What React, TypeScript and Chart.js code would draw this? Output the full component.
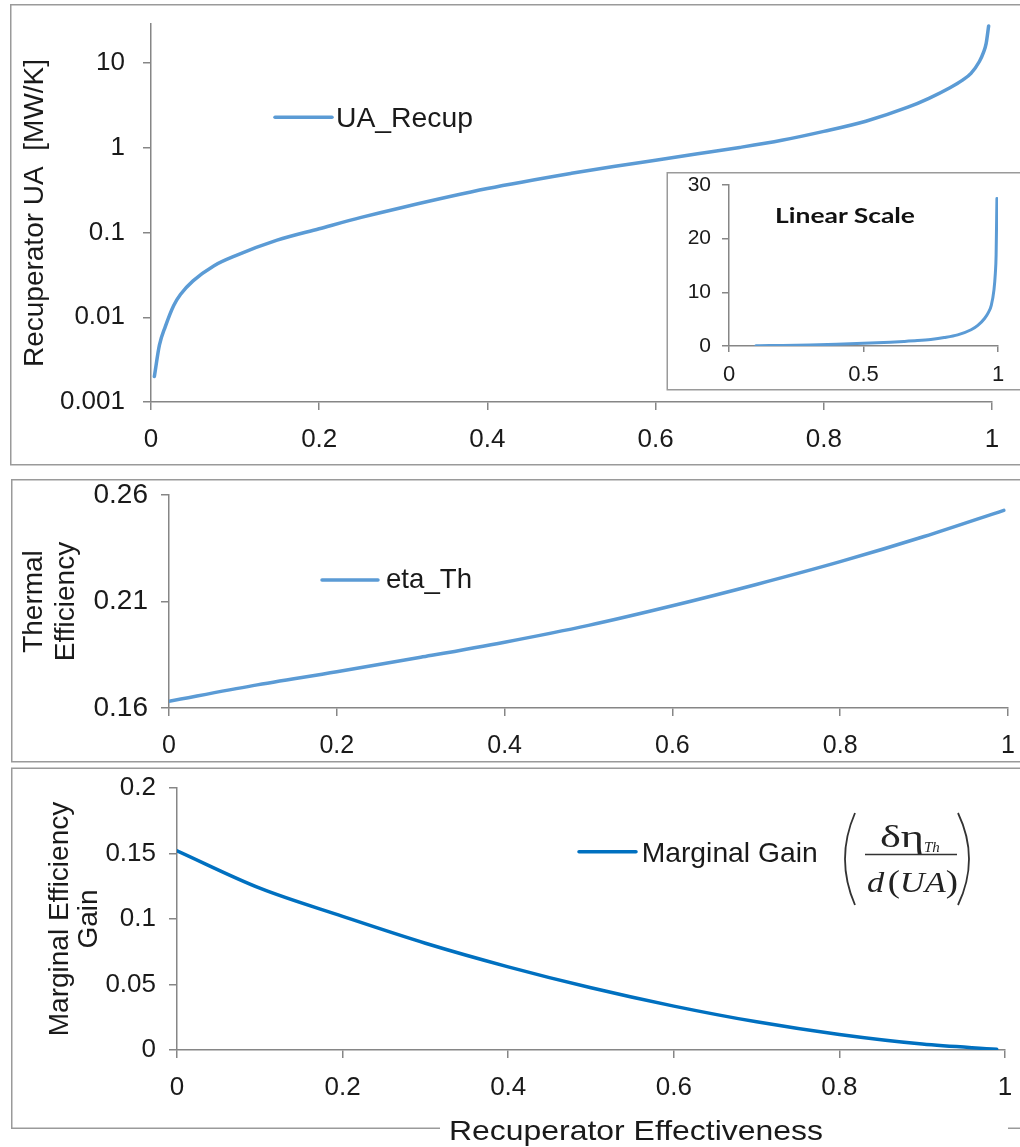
import React, { useEffect, useRef } from 'react';
import { Chart, registerables } from 'chart.js';

Chart.register(...registerables);

const SANS = "'Liberation Sans', Arial, Helvetica, sans-serif";
const SERIF = "'Liberation Serif', 'Times New Roman', serif";
const AXIS_COLOR = '#868686';
const FRAME_COLOR = '#9a9a9a';
const TEXT_COLOR = '#1a1a1a';
const LIGHT_BLUE = '#5B9BD5';
const DARK_BLUE = '#0070C0';

// ---------------- data ----------------
// Top panel: recuperator UA vs effectiveness (log scale)
const effectivenessUA = [
  0.004, 0.01, 0.017, 0.027, 0.035, 0.05, 0.075, 0.1, 0.15, 0.2, 0.25, 0.3, 0.4, 0.5, 0.55,
  0.6, 0.65, 0.7, 0.75, 0.8, 0.85, 0.9, 0.925, 0.95, 0.965, 0.975, 0.985, 0.99, 0.993, 0.996,
];
const uaRecup = [
  0.002, 0.00468, 0.00776, 0.0138, 0.0186, 0.0269, 0.0407, 0.0531, 0.0813, 0.111, 0.151, 0.1995, 0.331, 0.501, 0.603,
  0.716, 0.851, 1.012, 1.23, 1.567, 2.065, 3.02, 3.846, 5.129, 6.31, 7.586, 10.47, 13.49, 16.98, 27.5,
];
const uaTickValues = [0.001, 0.01, 0.1, 1, 10];
const uaTickLabels = ['0.001', '0.01', '0.1', '1', '10'];
const effTickValues = [0, 0.2, 0.4, 0.6, 0.8, 1];
const effTickLabels = ['0', '0.2', '0.4', '0.6', '0.8', '1'];

// Inset (linear scale)
const insetStartEffectiveness = 0.1;
const insetYTickValues = [0, 10, 20, 30];
const insetYTickLabels = ['0', '10', '20', '30'];
const insetXTickValues = [0, 0.5, 1];
const insetXTickLabels = ['0', '0.5', '1'];

// Middle panel: thermal efficiency
const effectivenessEta = [0, 0.1, 0.2, 0.3, 0.4, 0.5, 0.6, 0.7, 0.8, 0.9, 0.995];
const etaTh = [0.1631, 0.1705, 0.177, 0.1838, 0.1909, 0.1988, 0.208, 0.218, 0.2287, 0.2405, 0.2528];
const etaTickValues = [0.16, 0.21, 0.26];
const etaTickLabels = ['0.16', '0.21', '0.26'];

// Bottom panel: marginal efficiency gain
const effectivenessGain = [0, 0.1, 0.2, 0.3, 0.4, 0.5, 0.6, 0.7, 0.8, 0.9, 0.99];
const marginalGain = [0.152, 0.1235, 0.102, 0.0815, 0.0635, 0.0475, 0.0335, 0.0215, 0.0118, 0.0045, 0.0005];
const gainTickValues = [0, 0.05, 0.1, 0.15, 0.2];
const gainTickLabels = ['0', '0.05', '0.1', '0.15', '0.2'];

// ---------------- helpers ----------------
type AxisSpec = {
  type?: string;
  min: number;
  max: number;
  values: number[];
  labels: string[];
  fontSize: number;
  padding: number;
  tickLength: number;
  size: number;
  title?: { text: string | string[]; size: number; lineHeight: number; padTop: number };
};

function makeAxis(o: AxisSpec, horizontal: boolean) {
  return {
    type: o.type ?? 'linear',
    position: horizontal ? 'bottom' : 'left',
    min: o.min,
    max: o.max,
    afterBuildTicks: (s: any) => {
      s.ticks = o.values.map((v) => ({ value: v }));
    },
    afterFit: (s: any) => {
      if (horizontal) s.height = o.size;
      else s.width = o.size;
      s.paddingTop = 0;
      s.paddingBottom = 0;
      s.paddingLeft = 0;
      s.paddingRight = 0;
    },
    ticks: {
      autoSkip: false,
      maxRotation: 0,
      minRotation: 0,
      padding: o.padding,
      color: TEXT_COLOR,
      font: { family: SANS, size: o.fontSize },
      callback: (_v: any, i: number) => o.labels[i] ?? '',
    },
    grid: {
      display: true,
      drawOnChartArea: false,
      drawTicks: true,
      tickLength: o.tickLength,
      color: AXIS_COLOR,
      lineWidth: 1.5,
    },
    border: { display: true, color: AXIS_COLOR, width: 1.5 },
    title: o.title
      ? {
          display: true,
          text: o.title.text,
          color: TEXT_COLOR,
          font: { family: SANS, size: o.title.size, lineHeight: o.title.lineHeight },
          padding: { top: o.title.padTop, bottom: 0 },
        }
      : { display: false },
  };
}

function lineConfig(
  xs: number[],
  ys: number[],
  color: string,
  width: number,
  xAxis: any,
  yAxis: any,
  padding: { top: number; right: number }
): any {
  return {
    type: 'line',
    data: {
      datasets: [
        {
          data: xs.map((x, i) => ({ x, y: ys[i] })),
          borderColor: color,
          backgroundColor: color,
          borderWidth: width,
          pointRadius: 0,
          borderCapStyle: 'round',
          borderJoinStyle: 'round',
          cubicInterpolationMode: 'monotone',
          fill: false,
        },
      ],
    },
    options: {
      responsive: false,
      animation: false,
      events: [],
      layout: { padding: { left: 0, top: padding.top, right: padding.right, bottom: 0 } },
      plugins: { legend: { display: false }, tooltip: { enabled: false } },
      scales: { x: xAxis, y: yAxis },
    },
  };
}

function ChartBox(props: { left: number; top: number; width: number; height: number; build: () => any; bg?: string }) {
  const ref = useRef<HTMLCanvasElement | null>(null);
  useEffect(() => {
    const chart = new Chart(ref.current as HTMLCanvasElement, props.build());
    return () => chart.destroy();
  }, []);
  return (
    <canvas
      ref={ref}
      width={props.width}
      height={props.height}
      style={{
        position: 'absolute',
        left: props.left,
        top: props.top,
        width: props.width,
        height: props.height,
        background: props.bg ?? 'transparent',
      }}
    />
  );
}

// ---------------- charts ----------------
const buildTop = () =>
  lineConfig(
    effectivenessUA,
    uaRecup,
    LIGHT_BLUE,
    3.5,
    makeAxis({ min: 0, max: 1, values: effTickValues, labels: effTickLabels, fontSize: 26, padding: 14, tickLength: 8, size: 62 }, true),
    makeAxis(
      {
        type: 'logarithmic',
        min: 0.001,
        max: 29,
        values: uaTickValues,
        labels: uaTickLabels,
        fontSize: 26,
        padding: 18,
        tickLength: 8,
        size: 140,
        title: { text: 'Recuperator UA  [MW/K]', size: 28, lineHeight: 1.2, padTop: 7 },
      },
      false
    ),
    { top: 18, right: 28 }
  );

const buildInset = () => {
  const xs = effectivenessUA.filter((x) => x >= insetStartEffectiveness);
  const ys = uaRecup.filter((_, i) => effectivenessUA[i] >= insetStartEffectiveness);
  return lineConfig(
    xs,
    ys,
    LIGHT_BLUE,
    3,
    makeAxis({ min: 0, max: 1, values: insetXTickValues, labels: insetXTickLabels, fontSize: 22, padding: 10, tickLength: 6, size: 43 }, true),
    makeAxis({ min: 0, max: 30, values: insetYTickValues, labels: insetYTickLabels, fontSize: 21, padding: 11, tickLength: 7, size: 61 }, false),
    { top: 11, right: 22 }
  );
};

const buildMiddle = () =>
  lineConfig(
    effectivenessEta,
    etaTh,
    LIGHT_BLUE,
    3.5,
    makeAxis({ min: 0, max: 1, values: effTickValues, labels: effTickLabels, fontSize: 25, padding: 15, tickLength: 8, size: 53 }, true),
    makeAxis(
      {
        min: 0.16,
        max: 0.26,
        values: etaTickValues,
        labels: etaTickLabels,
        fontSize: 28,
        padding: 13,
        tickLength: 8,
        size: 157,
        title: { text: ['Thermal', 'Efficiency'], size: 28, lineHeight: 1.15, padTop: 6 },
      },
      false
    ),
    { top: 14, right: 12 }
  );

const buildBottom = () =>
  lineConfig(
    effectivenessGain,
    marginalGain,
    DARK_BLUE,
    3.5,
    makeAxis({ min: 0, max: 1, values: effTickValues, labels: effTickLabels, fontSize: 26, padding: 14, tickLength: 8, size: 77 }, true),
    makeAxis(
      {
        min: 0,
        max: 0.2,
        values: gainTickValues,
        labels: gainTickLabels,
        fontSize: 26,
        padding: 13,
        tickLength: 8,
        size: 165,
        title: { text: ['Marginal Efficiency', 'Gain'], size: 28, lineHeight: 1.04, padTop: 34 },
      },
      false
    ),
    { top: 18, right: 15 }
  );

// ---------------- page ----------------
export default function App() {
  return (
    <div style={{ position: 'absolute', left: 0, top: 0, width: 1020, height: 1147, background: '#fff', overflow: 'hidden' }}>
      <ChartBox left={11} top={6} width={1009} height={458} build={buildTop} />
      <ChartBox left={668} top={174} width={352} height={215} build={buildInset} bg="#fff" />
      <ChartBox left={12} top={481} width={1008} height={280} build={buildMiddle} />
      <ChartBox left={12} top={770} width={1008} height={357} build={buildBottom} />

      <svg width={1020} height={1147} style={{ position: 'absolute', left: 0, top: 0, pointerEvents: 'none' }}>
        {/* panel frames */}
        <rect x={10.75} y={4.75} width={1040} height={460} fill="none" stroke={FRAME_COLOR} strokeWidth={1.5} />
        <rect x={11.75} y={479.75} width={1040} height={282} fill="none" stroke={FRAME_COLOR} strokeWidth={1.5} />
        <rect x={11.75} y={768.25} width={1040} height={360} fill="none" stroke={FRAME_COLOR} strokeWidth={1.5} />
        <rect x={667.25} y={172.75} width={400} height={217} fill="none" stroke={FRAME_COLOR} strokeWidth={1.5} />

        {/* legends */}
        <line x1={275} y1={117.3} x2={332} y2={117.3} stroke={LIGHT_BLUE} strokeWidth={3.5} strokeLinecap="round" />
        <text x={336} y={126.7} fontFamily={SANS} fontSize={28} fill={TEXT_COLOR} textLength={137} lengthAdjust="spacingAndGlyphs">
          UA_Recup
        </text>

        <line x1={322} y1={580} x2={378} y2={580} stroke={LIGHT_BLUE} strokeWidth={3.5} strokeLinecap="round" />
        <text x={386} y={588.3} fontFamily={SANS} fontSize={28} fill={TEXT_COLOR} textLength={86} lengthAdjust="spacingAndGlyphs">
          eta_Th
        </text>

        <line x1={579} y1={851.7} x2={636} y2={851.7} stroke={DARK_BLUE} strokeWidth={3.5} strokeLinecap="round" />
        <text x={641.7} y={861.7} fontFamily={SANS} fontSize={28} fill={TEXT_COLOR} textLength={176} lengthAdjust="spacingAndGlyphs">
          Marginal Gain
        </text>

        {/* formula ( δη_Th / d(UA) ) */}
        <path d="M 855 813 Q 835 859 855 905" fill="none" stroke="#333" strokeWidth={1.8} />
        <path d="M 958 813 Q 980 859 958 905" fill="none" stroke="#333" strokeWidth={1.8} />
        <text x={880} y={846.7} fontFamily={SERIF} fontSize={32} fill="#222" textLength={44} lengthAdjust="spacingAndGlyphs">
          δη
        </text>
        <text x={924} y={851.5} fontFamily={SERIF} fontSize={15} fontStyle="italic" fill="#222">
          Th
        </text>
        <line x1={865} y1={854.5} x2={957} y2={854.5} stroke="#333" strokeWidth={1.5} />
        <text x={867} y={891.5} fontFamily={SERIF} fontSize={30} fill="#222" textLength={91} lengthAdjust="spacingAndGlyphs">
          <tspan fontStyle="italic">d</tspan>
          <tspan dx={3} fontSize={32}>(</tspan>
          <tspan fontStyle="italic">UA</tspan>
          <tspan fontSize={32}>)</tspan>
        </text>

        {/* inset label */}
        <text x={775} y={222.5} fontFamily="Lato, 'Open Sans', sans-serif" fontWeight="bold" fontSize={21} fill="#111" textLength={140} lengthAdjust="spacingAndGlyphs">
          Linear Scale
        </text>

        {/* shared x-axis title sitting on the bottom frame */}
        <rect x={440} y={1112} width={568} height={35} fill="#fff" />
        <text x={449} y={1139.5} fontFamily={SANS} fontSize={28} fill={TEXT_COLOR} textLength={374} lengthAdjust="spacingAndGlyphs">
          Recuperator Effectiveness
        </text>
      </svg>
    </div>
  );
}
